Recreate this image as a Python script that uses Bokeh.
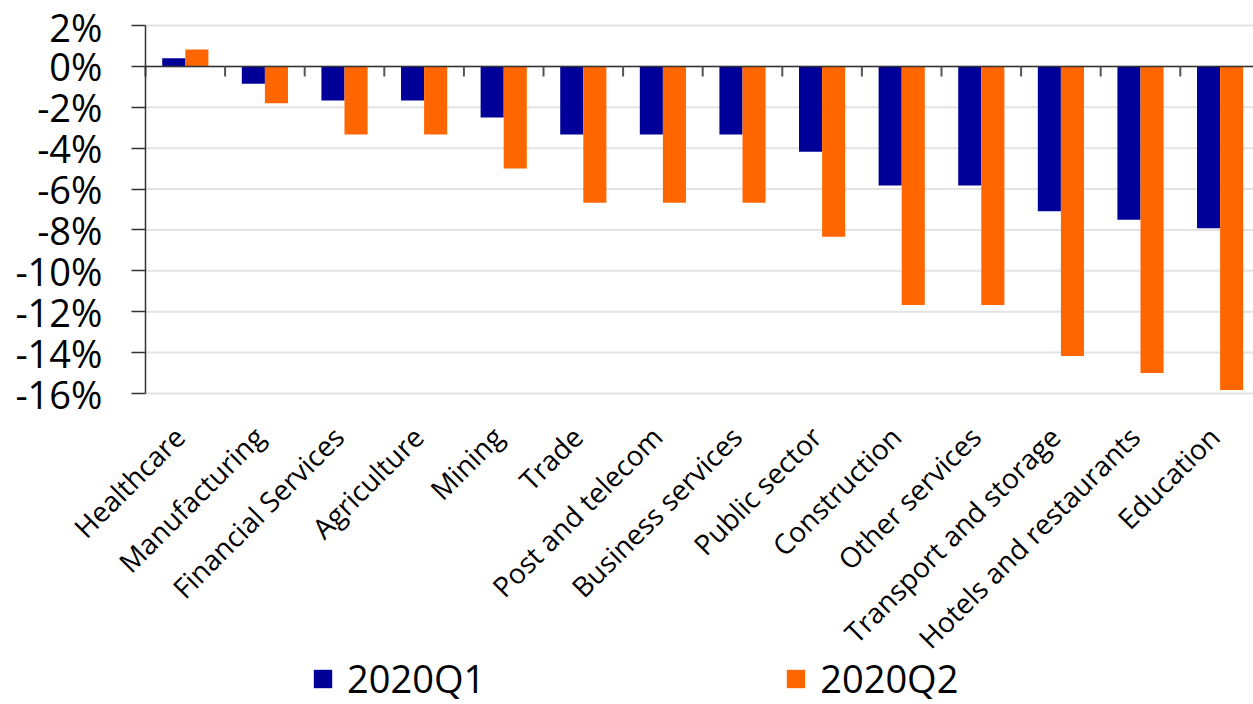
from bokeh.plotting import figure
from bokeh.models import (Range1d, FixedTicker, PrintfTickFormatter, Legend,
                          LegendItem, ColumnDataSource)
from bokeh.core.properties import value
from bokeh.embed import file_html
from bokeh.resources import INLINE
import math

categories = ["Healthcare", "Manufacturing", "Financial Services", "Agriculture", "Mining",
              "Trade", "Post and telecom", "Business services", "Public sector",
              "Construction", "Other services", "Transport and storage",
              "Hotels and restaurants", "Education"]
q1 = [0.4, -0.85, -1.67, -1.67, -2.5, -3.33, -3.33, -3.33, -4.17, -5.83, -5.83, -7.08, -7.5, -7.92]
q2 = [0.83, -1.8, -3.33, -3.33, -5.0, -6.67, -6.67, -6.67, -8.33, -11.67, -11.67, -14.17, -15.0, -15.83]
y_ticks = [-16, -14, -12, -10, -8, -6, -4, -2, 0, 2]
series_names = ["2020Q1", "2020Q2"]

BLUE = "#000099"
ORANGE = "#FF6600"
FONT = "Open Sans"

W, H = 1253, 704
AXIS_X_PX, TOP = 145, 25        # pixel column of the y axis, pixel row of the top tick
AXIS_BOTTOM_PX = 393            # pixel row of the lowest tick (-16 %)
CAT_PX = 79.6                   # pixels per category
y_lo, y_hi = min(y_ticks), max(y_ticks)
px_per_unit = (AXIS_BOTTOM_PX - TOP) / (y_hi - y_lo)
y_end = y_hi + TOP / px_per_unit                # frame reaches the top of the canvas
y_start = y_hi - (H - TOP) / px_per_unit        # ... and the bottom of the canvas
x_start = -AXIS_X_PX / CAT_PX                   # ... and its left edge
x_end = (W - AXIS_X_PX) / CAT_PX                # right edge clipped as in the original

n = len(categories)
centers = [i + 0.5 for i in range(n)]
bar_w = 0.29
label_y = y_hi - (431 - TOP) / px_per_unit

p = figure(width=W, height=H, output_backend="svg", toolbar_location=None,
           x_range=Range1d(x_start, x_end), y_range=Range1d(y_start, y_end),
           x_axis_location=None,
           min_border_left=0, min_border_top=0, min_border_bottom=0, min_border_right=0)
p.outline_line_color = None
p.background_fill_color = "white"
p.border_fill_color = "white"

# horizontal grid lines, only to the right of the y axis
p.xgrid.grid_line_color = None
p.ygrid.grid_line_color = None
p.segment(x0=[0] * len(y_ticks), y0=y_ticks, x1=[x_end] * len(y_ticks), y1=y_ticks,
          line_color="#e3e3e3", line_width=2)

src = ColumnDataSource(dict(x1=[c - bar_w / 2 for c in centers],
                            x2=[c + bar_w / 2 for c in centers],
                            q1=q1, q2=q2))
r1 = p.vbar(x="x1", top="q1", bottom=0, width=bar_w, source=src, fill_color=BLUE, line_color=None)
r2 = p.vbar(x="x2", top="q2", bottom=0, width=bar_w, source=src, fill_color=ORANGE, line_color=None)

# zero line with ticks at category boundaries
p.segment(x0=[0], y0=[0], x1=[x_end], y1=[0], line_color="#333333", line_width=1.5)
bounds = list(range(n))
p.segment(x0=bounds, y0=[0] * n, x1=bounds, y1=[-0.5] * n, line_color="#555555", line_width=2)

# category labels, rotated 45 degrees, ending under each category centre
p.text(x=centers, y=[label_y] * n, text=categories, angle=math.pi / 4, x_offset=-6,
       text_align="right", text_baseline="middle",
       text_font=value(FONT), text_font_size=value("28px"), text_color="black")

# y axis drawn at x = 0
p.yaxis.fixed_location = 0
p.yaxis.bounds = (y_lo, y_hi)
p.yaxis.ticker = FixedTicker(ticks=y_ticks)
p.yaxis.formatter = PrintfTickFormatter(format="%d%%")
p.yaxis.major_label_text_font = FONT
p.yaxis.major_label_text_font_size = "38px"
p.yaxis.major_label_text_color = "black"
p.yaxis.axis_line_color = "#333333"
p.yaxis.axis_line_width = 1.5
p.yaxis.major_tick_line_color = "#333333"
p.yaxis.major_tick_line_width = 1.5
p.yaxis.major_tick_out = 14
p.yaxis.major_tick_in = 0
p.yaxis.minor_tick_line_color = None
p.yaxis.major_label_standoff = 29

legend = Legend(items=[LegendItem(label=series_names[0], renderers=[r1]),
                       LegendItem(label=series_names[1], renderers=[r2])],
                orientation="horizontal", location=(AXIS_X_PX + 166, 0),
                glyph_width=23, glyph_height=23, label_standoff=13, spacing=299,
                padding=0, margin=0, border_line_color=None, background_fill_alpha=0,
                label_text_font=FONT, label_text_font_size="38px", label_text_color="black")
p.add_layout(legend, "center")

open("out.html", "w").write(file_html(p, INLINE))
